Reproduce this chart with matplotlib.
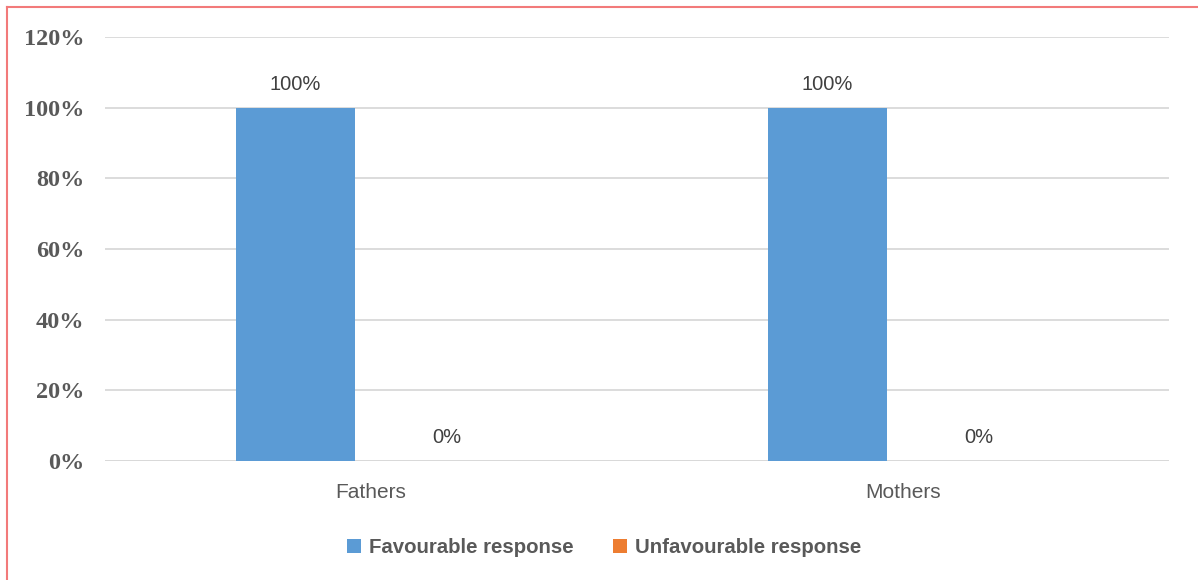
import numpy as np
import matplotlib.pyplot as plt
from matplotlib.lines import Line2D

categories = ['Fathers', 'Mothers']
favourable = [100, 100]
unfavourable = [0, 0]
series_names = ['Favourable response', 'Unfavourable response']
yticks = [0, 20, 40, 60, 80, 100, 120]

blue = '#5b9bd5'
orange = '#ed7d31'
grey = '#595959'

fig = plt.figure(figsize=(11.98, 5.80), dpi=100)
ax = fig.add_axes([0.0876, 0.2052, 0.8882, 0.731])

x = np.arange(len(categories))
w = 0.224
off = 0.142
b1 = ax.bar(x - off, favourable, w, color=blue, label=series_names[0], zorder=3)
b2 = ax.bar(x + off, unfavourable, w, color=orange, label=series_names[1], zorder=3)

for bars, vals in [(b1, favourable), (b2, unfavourable)]:
    for r, v in zip(bars, vals):
        ax.text(r.get_x() + r.get_width() / 2, v + 4, '%d%%' % v,
                ha='center', va='bottom', fontsize=14.5, color='#404040',
                family='Liberation Sans')

ax.set_xlim(-0.5, 1.5)
ax.set_ylim(0, 120)
ax.set_yticks(yticks)
ax.set_yticklabels(['%d%%' % t for t in yticks], family='Liberation Serif',
                   fontweight='bold', fontsize=17.5, color=grey)
ax.set_xticks(x)
ax.set_xticklabels(categories, family='Liberation Sans', fontsize=15, color=grey)
ax.tick_params(length=0)
ax.tick_params(axis='y', pad=15)
ax.tick_params(axis='x', pad=16)
ax.grid(axis='y', color='#d9d9d9', linewidth=1.3, zorder=0)
for s in ax.spines.values():
    s.set_visible(False)
ax.axhline(0, color='#d9d9d9', linewidth=1.3, zorder=2)

leg = ax.legend(loc='center', bbox_to_anchor=(0.469, -0.205), ncol=2, frameon=False,
                handlelength=0.7, handleheight=0.7, columnspacing=1.9, handletextpad=0.4,
                prop={'family': 'Liberation Sans', 'weight': 'bold', 'size': 14.7})
for t in leg.get_texts():
    t.set_color(grey)

# red border on top and left
fig.add_artist(Line2D([6.5 / 1198, 6.5 / 1198], [0, 1 - 7 / 580], color='#f27a7a', linewidth=1.5))
fig.add_artist(Line2D([6.5 / 1198, 1], [1 - 7 / 580, 1 - 7 / 580], color='#f27a7a', linewidth=1.5))

fig.savefig('out.png', dpi=100)
